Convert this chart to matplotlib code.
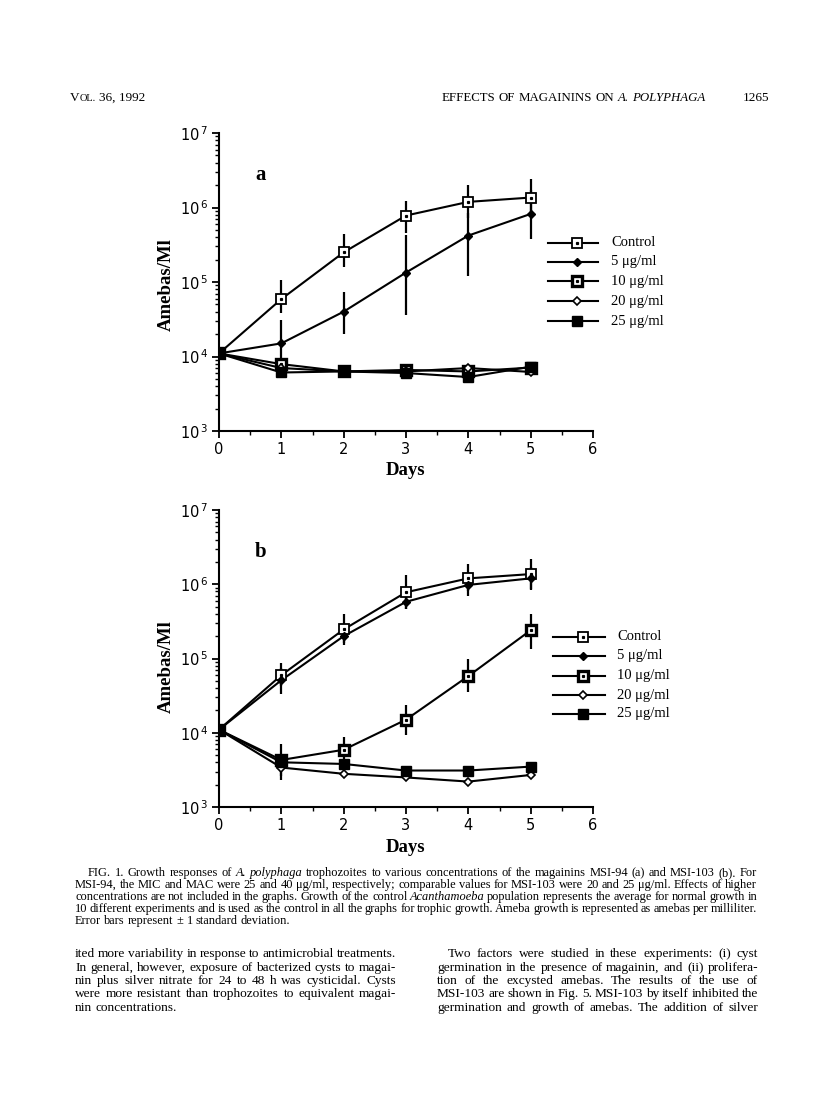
import numpy as np
import matplotlib
matplotlib.use("Agg")
import matplotlib.pyplot as plt
from matplotlib.lines import Line2D
from matplotlib.ticker import LogLocator, FixedLocator, NullFormatter

nan = np.nan
days = [0, 1, 2, 3, 4, 5]
series_names = ["Control", "5 \u03bcg/ml", "10 \u03bcg/ml", "20 \u03bcg/ml", "25 \u03bcg/ml"]

# panel a (MSI-94)
a_control = [1.1e4, 5.9e4, 2.5e5, 7.8e5, 1.19e6, 1.36e6]
a_control_lo = [nan, 3.8e4, 1.57e5, 4.5e5, 7.3e5, 7.6e5]
a_control_hi = [nan, 1.07e5, 4.4e5, 1.23e6, 2.0e6, 2.4e6]
a_5 = [1.1e4, 1.5e4, 4.0e4, 1.34e5, 4.2e5, 8.2e5]
a_5_lo = [nan, 8.5e3, 2.0e4, 3.6e4, 1.19e5, 3.8e5]
a_5_hi = [nan, 3.1e4, 7.4e4, 4.3e5, 8.4e5, 1.7e6]
a_10 = [1.1e4, 7.9e3, 6.3e3, 6.6e3, 6.3e3, 7.1e3]
a_20 = [1.1e4, 7.0e3, 6.3e3, 6.3e3, 7.0e3, 6.2e3]
a_25 = [1.1e4, 6.1e3, 6.3e3, 6.0e3, 5.3e3, 7.3e3]

# panel b (MSI-103)
b_control = [1.1e4, 5.96e4, 2.46e5, 7.8e5, 1.2e6, 1.37e6]
b_control_lo = [nan, 4.2e4, 1.6e5, 4.6e5, 8.0e5, 8.5e5]
b_control_hi = [nan, 8.7e4, 4.0e5, 1.33e6, 1.87e6, 2.2e6]
b_5 = [1.1e4, 5.1e4, 2.0e5, 5.8e5, 9.8e5, 1.2e6]
b_5_lo = [nan, 3.3e4, 1.5e5, 4.6e5, 6.9e5, 8.3e5]
b_5_hi = [nan, 7.5e4, 2.7e5, 7.3e5, 1.35e6, 1.7e6]
b_10 = [1.1e4, 4.3e3, 5.9e3, 1.5e4, 5.8e4, 2.4e5]
b_10_lo = [nan, 2.6e3, 4.0e3, 9.3e3, 3.5e4, 1.34e5]
b_10_hi = [nan, 7.1e3, 8.8e3, 2.4e4, 9.8e4, 4.0e5]
b_20 = [1.1e4, 3.4e3, 2.8e3, 2.5e3, 2.2e3, 2.7e3]
b_20_lo = [nan, 2.3e3, nan, nan, nan, nan]
b_20_hi = [nan, 4.6e3, nan, nan, nan, nan]
b_25 = [1.1e4, 4.0e3, 3.8e3, 3.1e3, 3.1e3, 3.5e3]

header_left = "36, 1992"
header_mid = "EFFECTS OF MAGAININS ON A. POLYPHAGA"
header_page = "1265"
caption = [
    "FIG. 1. Growth responses of A. polyphaga trophozoites to various concentrations of the magainins MSI-94 (a) and MSI-103 (b). For",
    "MSI-94, the MIC and MAC were 25 and 40 \u03bcg/ml, respectively; comparable values for MSI-103 were 20 and 25 \u03bcg/ml. Effects of higher",
    "concentrations are not included in the graphs. Growth of the control Acanthamoeba population represents the average for normal growth in",
    "10 different experiments and is used as the control in all the graphs for trophic growth. Ameba growth is represented as amebas per milliliter.",
    "Error bars represent \u00b1 1 standard deviation.",
]
left_col = [
    "ited more variability in response to antimicrobial treatments.",
    "In general, however, exposure of bacterized cysts to magai-",
    "nin plus silver nitrate for 24 to 48 h was cysticidal. Cysts",
    "were more resistant than trophozoites to equivalent magai-",
    "nin concentrations.",
]
right_col = [
    "Two factors were studied in these experiments: (i) cyst",
    "germination in the presence of magainin, and (ii) prolifera-",
    "tion of the excysted amebas. The results of the use of",
    "MSI-103 are shown in Fig. 5. MSI-103 by itself inhibited the",
    "germination and growth of amebas. The addition of silver",
]
italic_words = {"A.", "polyphaga", "Acanthamoeba", "POLYPHAGA"}

W, H = 816, 1098
fig = plt.figure(figsize=(W / 100, H / 100), dpi=100)
fig.patch.set_facecolor("white")
renderer = fig.canvas.get_renderer()
serif = "Liberation Serif"


def px(x, y):
    return x / W, 1 - y / H


def text_line(line, x0, x1, y, size, justify=True):
    texts = []
    for word in line.split(" "):
        st = "italic" if word.strip(".,;") in italic_words or word in italic_words else "normal"
        texts.append(fig.text(*px(x0, y), word, fontsize=size, family=serif,
                              style=st, va="baseline"))
    widths = [t.get_window_extent(renderer).width for t in texts]
    if justify and len(texts) > 1:
        gap = (x1 - x0 - sum(widths)) / (len(texts) - 1)
    else:
        gap = size * 100 / 72 * 0.25
    x = x0
    for t, w in zip(texts, widths):
        t.set_position(px(x, y))
        x += w + gap


# control: open square with dot, 5: filled diamond, 10: bold square, 20: open diamond, 25: filled square
styles = [
    dict(marker="s", ms=6.5, mfc="white", mec="black", mew=1.3),
    dict(marker="D", ms=4.5, mfc="black", mec="black", mew=1),
    dict(marker="s", ms=7, mfc="white", mec="black", mew=2.4),
    dict(marker="D", ms=4.5, mfc="white", mec="black", mew=1.2),
    dict(marker="s", ms=7, mfc="black", mec="black", mew=1),
]
dots = [True, False, True, False, False]


def draw_marker(ax, x, y, i, **kw):
    ax.plot(x, y, ls="none", color="black", **styles[i], **kw)
    if dots[i]:
        ax.plot(x, y, ls="none", marker="s", ms=1.3, color="black", **kw)


def panel(ax, letter, data, errs):
    for lo, hi in errs:
        ax.vlines(days, lo, hi, color="black", lw=1.6, zorder=2)
    for i, vals in enumerate(data):
        ax.plot(days, vals, color="black", lw=1.5, zorder=3)
        draw_marker(ax, days, vals, i, zorder=4)
    ax.set_yscale("log")
    ax.set_ylim(1e3, 1e7)
    ax.set_xlim(0, 6)
    for s in ["top", "right"]:
        ax.spines[s].set_visible(False)
    for s in ["left", "bottom"]:
        ax.spines[s].set_linewidth(1.5)
    ax.set_xticks(range(7))
    ax.xaxis.set_minor_locator(FixedLocator(np.arange(0.5, 6, 1)))
    ax.set_yticks([1e3, 1e4, 1e5, 1e6, 1e7])
    ax.set_yticklabels([r"$\mathregular{10^{\,%d}}$" % k for k in range(3, 8)])
    ax.yaxis.set_minor_locator(LogLocator(base=10, subs=np.arange(2, 10)))
    ax.yaxis.set_minor_formatter(NullFormatter())
    ax.tick_params(axis="both", which="major", direction="out", length=5, width=1.3,
                   labelsize=10.5, pad=3)
    ax.tick_params(axis="both", which="minor", direction="out", length=3, width=1)
    for lab in ax.get_xticklabels() + ax.get_yticklabels():
        lab.set_family("DejaVu Sans")
    ax.text(0.11, 0.86, letter, transform=ax.transAxes, fontsize=15,
            fontweight="bold", family=serif, ha="center", va="center")


def legend(xl, xr, xt, ys):
    for i, (name, y) in enumerate(zip(series_names, ys)):
        fx0, fy = px(xl, y)
        fx1, _ = px(xr, y)
        fig.add_artist(Line2D([fx0, fx1], [fy, fy], color="black", lw=1.5,
                              transform=fig.transFigure))
        fm = px((xl + xr) / 2 + 4, y)
        fig.add_artist(Line2D([fm[0]], [fm[1]], ls="none", color="black",
                              transform=fig.transFigure, **styles[i]))
        if dots[i]:
            fig.add_artist(Line2D([fm[0]], [fm[1]], ls="none", marker="s", ms=1.3,
                                  color="black", transform=fig.transFigure))
        fig.text(*px(xt, y), name, fontsize=10.5, family=serif, va="center")


ax_a = fig.add_axes([219 / W, 1 - 431 / H, 374 / W, 298 / H])
panel(ax_a, "a", [a_control, a_5, a_10, a_20, a_25],
      [(a_control_lo, a_control_hi), (a_5_lo, a_5_hi)])
ax_b = fig.add_axes([219 / W, 1 - 807 / H, 374 / W, 297 / H])
panel(ax_b, "b", [b_control, b_5, b_10, b_20, b_25],
      [(b_control_lo, b_control_hi), (b_5_lo, b_5_hi), (b_10_lo, b_10_hi), (b_20_lo, b_20_hi)])

for yc, yd in [(285, 471), (667, 848)]:
    fig.text(*px(166, yc), "Amebas/Ml", rotation=90, fontsize=13.5, fontweight="bold",
             family=serif, ha="center", va="center")
    fig.text(*px(406, yd), "Days", fontsize=13.5, fontweight="bold", family=serif,
             ha="center", va="center")

legend(548, 598, 611, [243, 262, 281, 301, 321])
legend(553, 605, 617, [637, 656, 676, 695, 714])

# running header (small caps "Vol.")
tv = fig.text(*px(70, 101), "V", fontsize=9.5, family=serif, va="baseline")
wv = tv.get_window_extent(renderer).width
to = fig.text(*px(70 + wv, 101), "OL.", fontsize=7.5, family=serif, va="baseline")
wo = to.get_window_extent(renderer).width
fig.text(*px(70 + wv + wo + 3, 101), header_left, fontsize=9.5, family=serif, va="baseline")
text_line(header_mid, 442, 705, 101, 9.3)
fig.text(*px(743, 101), header_page, fontsize=9.5, family=serif, va="baseline")

# caption
cy = [876, 888, 900, 912, 924]
for i, (line, y) in enumerate(zip(caption, cy)):
    x0 = 88 if i == 0 else 75
    text_line(line, x0, 757, y, 8.9, justify=(i < len(caption) - 1))

# body columns
by = [957, 971, 984, 997, 1011]
for i, (line, y) in enumerate(zip(left_col, by)):
    text_line(line, 75, 396, y, 9.6, justify=(i < len(left_col) - 1))
for i, (line, y) in enumerate(zip(right_col, by)):
    text_line(line, 448 if i == 0 else 437, 758, y, 9.6)

fig.savefig("out.png", dpi=100, facecolor="white")
